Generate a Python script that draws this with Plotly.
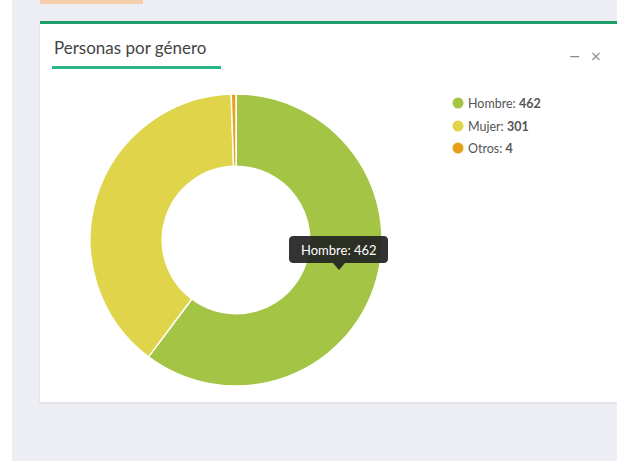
import math
import plotly.graph_objects as go

W, H = 617, 466

# Data
labels = ["Hombre", "Mujer", "Otros"]
values = [462, 301, 4]
colors = ["#a3c444", "#dfd44a", "#e49f1b"]
title_text = "Personas por género"
tooltip_index = 0


def px(x):
    return x / W


def py(y):
    return 1 - y / H


def rect(x0, y0, x1, y1, color, layer="below"):
    return dict(type="rect", xref="paper", yref="paper",
                x0=px(x0), x1=px(x1), y0=py(y1), y1=py(y0),
                fillcolor=color, line=dict(width=0), layer=layer)


def path(points, color, layer="above"):
    d = "M " + " L ".join(f"{px(x):.5f},{py(y):.5f}" for x, y in points) + " Z"
    return dict(type="path", xref="paper", yref="paper", path=d,
                fillcolor=color, line=dict(width=0), layer=layer)


cx, cy, R = 236, 240, 146

fig = go.Figure()
fig.add_trace(go.Pie(
    labels=labels, values=values, hole=0.505, sort=False,
    direction="clockwise", rotation=0,
    marker=dict(colors=colors, line=dict(color="white", width=1.5)),
    textinfo="none", hoverinfo="label+value", showlegend=False,
    domain=dict(x=[px(cx - R), px(cx + R)], y=[py(cy + R), py(cy - R)]),
))

shapes = []
shapes.append(rect(12, 0, 617, 461, "#eceef3"))
shapes.append(rect(40, 0, 143, 4, "#f5d0aa"))
shapes.append(rect(39, 22, 617, 404, "#e2e4ea"))
shapes.append(rect(40, 22, 617, 402, "#ffffff"))
shapes.append(rect(40, 21, 617, 24, "#1e9e6a"))
shapes.append(rect(52, 66, 221, 69, "#2bb38a"))

# tooltip box (rounded) and arrow
bx0, by0, bx1, by1, rr = 289, 236, 388, 263, 4
tip_pts = []
for (ccx, ccy, a0) in [(bx1 - rr, by0 + rr, -90), (bx1 - rr, by1 - rr, 0),
                       (bx0 + rr, by1 - rr, 90), (bx0 + rr, by0 + rr, 180)]:
    for k in range(0, 91, 15):
        a = math.radians(a0 + k)
        tip_pts.append((ccx + rr * math.cos(a), ccy + rr * math.sin(a)))
    if a0 == 0:
        tip_pts.append((345, by1))
        tip_pts.append((339, 270))
        tip_pts.append((333, by1))
shapes.append(path(tip_pts, "rgba(34,34,34,0.92)"))

annotations = []
annotations.append(dict(x=px(52), y=py(47), xref="paper", yref="paper",
                        text=title_text, showarrow=False, xanchor="left",
                        yanchor="middle",
                        font=dict(family="Lato", size=17, color="#444444")))
annotations.append(dict(x=px(583), y=py(46), xref="paper", yref="paper",
                        text="−", showarrow=False,
                        font=dict(family="DejaVu Sans", size=14, color="#8a8a8a")))
annotations.append(dict(x=px(604), y=py(46), xref="paper", yref="paper",
                        text="×", showarrow=False,
                        font=dict(family="DejaVu Sans", size=14, color="#8a8a8a")))

leg_y = [103, 126, 148]
for lab, val, col, yy in zip(labels, values, colors, leg_y):
    shapes.append(dict(type="circle", xref="paper", yref="paper",
                       x0=px(452.5), x1=px(463.5), y0=py(yy + 5.5), y1=py(yy - 5.5),
                       fillcolor=col, line=dict(width=0), layer="above"))
    annotations.append(dict(x=px(466), y=py(yy), xref="paper", yref="paper",
                            text=f"{lab}: <b>{val}</b>", showarrow=False,
                            xanchor="left", yanchor="middle",
                            font=dict(family="Lato", size=12.5, color="#555555")))

annotations.append(dict(x=px((bx0 + bx1) / 2), y=py((by0 + by1) / 2),
                        xref="paper", yref="paper",
                        text=f"{labels[tooltip_index]}: {values[tooltip_index]}",
                        showarrow=False, xanchor="center", yanchor="middle",
                        font=dict(family="Lato", size=13, color="#ffffff")))

fig.update_layout(
    width=W, height=H, margin=dict(l=0, r=0, t=0, b=0, pad=0),
    paper_bgcolor="#ffffff", plot_bgcolor="#ffffff",
    shapes=shapes, annotations=annotations,
    xaxis=dict(visible=False), yaxis=dict(visible=False),
)
fig.write_html("out.html", config=dict(displayModeBar=False),
               post_script="document.body.style.margin='0';document.body.style.overflow='hidden';")
